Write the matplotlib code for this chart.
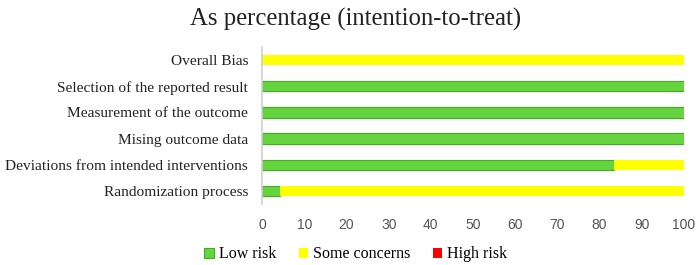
import matplotlib.pyplot as plt
import numpy as np

# Risk of bias domains (bottom to top)
domains = ["Randomization process",
           "Deviations from intended interventions",
           "Mising outcome data",
           "Measurement of the outcome",
           "Selection of the reported result",
           "Overall Bias"]
low_risk = [4.2, 83.3, 100, 100, 100, 0]
some_concerns = [95.8, 16.7, 0, 0, 0, 100]
high_risk = [0, 0, 0, 0, 0, 0]
x_ticks = list(range(0, 101, 10))

green = "#66D43F"
yellow = "#FFFF00"
red = "#FF0000"

fig = plt.figure(figsize=(6.99, 2.65), dpi=100)
ax = fig.add_axes([0.375, 0.23, 0.6035, 0.593])

y = np.arange(len(domains))
h = 0.4
ax.barh(y, low_risk, height=h, color=green, edgecolor="#3CB01E", linewidth=0.8, label="Low risk")
ax.barh(y, some_concerns, left=low_risk, height=h, color=yellow, linewidth=0, label="Some concerns")
left_hr = [a + b for a, b in zip(low_risk, some_concerns)]
ax.barh(y, high_risk, left=left_hr, height=h, color=red, linewidth=0, label="High risk")

ax.set_xlim(0, 100)
ax.set_ylim(-0.5, len(domains) - 0.5)
ax.set_yticks(y)
ax.set_yticklabels(domains, fontfamily="Liberation Serif", fontsize=11.1, color="#222222")
ax.set_xticks(x_ticks)
ax.set_xticklabels([str(t) for t in x_ticks], fontfamily="Liberation Sans", fontsize=10, color="#555555")
ax.tick_params(length=0, axis="both")
ax.tick_params(axis="x", pad=10)
ax.tick_params(axis="y", pad=10)
for s in ["top", "right", "bottom"]:
    ax.spines[s].set_visible(False)
ax.spines["left"].set_color("#d0d0d0")
ax.spines["left"].set_linewidth(1.2)

fig.text(0.508, 0.925, "As percentage (intention-to-treat)", ha="center", va="center",
         fontfamily="Liberation Serif", fontsize=17.8, color="#222222")

handles, labels = ax.get_legend_handles_labels()
fig.legend(handles, labels, loc="center", bbox_to_anchor=(0.509, 0.04), ncol=3, frameon=False,
           prop={"family": "Liberation Serif", "size": 11.5}, handlelength=0.6, handleheight=0.6,
           handletextpad=0.3, columnspacing=1.4)

plt.savefig("out.png", dpi=100)
